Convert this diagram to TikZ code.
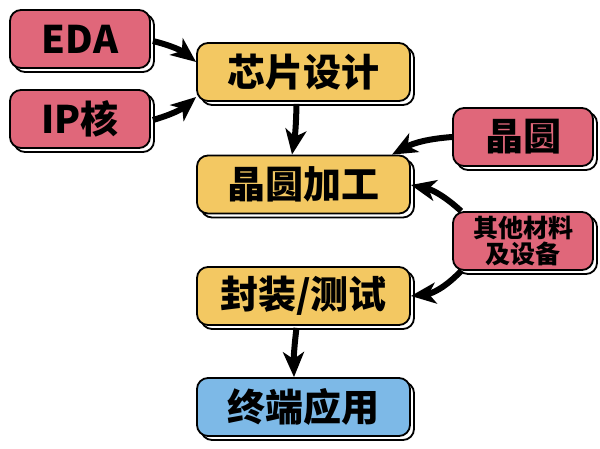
\documentclass[tikz,border=0pt]{standalone}
\usepackage{fontspec}
\setmainfont{Noto Sans CJK SC}
\usetikzlibrary{arrows.meta,shadows}
\definecolor{pinkc}{HTML}{E0677A}
\definecolor{yellowc}{HTML}{F3C862}
\definecolor{bluec}{HTML}{7DB9E7}
\tikzset{
  box/.style={draw=black, line width=1.8pt, rounded corners=11pt, inner sep=0pt,
    font=\fontsize{38}{42}\selectfont\bfseries,
    copy shadow={shadow xshift=4pt, shadow yshift=-4pt, fill=white, draw=black, line width=1.8pt}},
  sidebox/.style={box, fill=pinkc, minimum width=140pt, minimum height=58pt},
  mainbox/.style={box, fill=yellowc, minimum width=213pt, minimum height=58pt},
  conn/.style={line width=6pt, -{Stealth[length=25pt, width=21pt, inset=7pt]}}
}
\begin{document}
\begin{tikzpicture}[x=1pt,y=-1pt]
\useasboundingbox (0,0) rectangle (600,449);
\node[sidebox] (eda) at (80,39) {EDA};
\node[sidebox] (ip) at (80,119) {IP核};
\node[mainbox] (design) at (303.5,72) {芯片设计};
\node[mainbox] (fab) at (303.5,184.5) {晶圆加工};
\node[mainbox] (pack) at (303.5,296) {封装/测试};
\node[mainbox, fill=bluec] (app) at (303.5,407) {终端应用};
\node[sidebox, minimum width=140pt] (wafer) at (523,137) {晶圆};
\node[sidebox, minimum width=140pt, font=\fontsize{25}{28}\selectfont\bfseries, align=center] (other) at (523,241) {其他材料\\[-2pt]及设备};
\draw[conn] (eda.east) ++(2,2) coordinate (e1) to[bend left=12] (design.west |- 0,62);
\draw[conn] (ip.east) ++(2,1) coordinate (i1) to[bend right=12] (design.west |- 0,97);
\draw[conn] (design.south) ++(-7,2) coordinate (d1) to[bend left=4] (fab.north -| 292,0);
\draw[conn] (wafer.west) to[bend right=12] (fab.north -| 392,0);
\draw[conn] (other.north west) ++(9,0) coordinate (o1) to[bend right=15] (fab.east |- 0,185);
\draw[conn] (other.south west) ++(9,0) coordinate (o2) to[bend left=20] (pack.east |- 0,296);
\draw[conn] (pack.south) ++(-7,2) coordinate (p1) to[bend right=4] (app.north -| 294,0);
\end{tikzpicture}
\end{document}
